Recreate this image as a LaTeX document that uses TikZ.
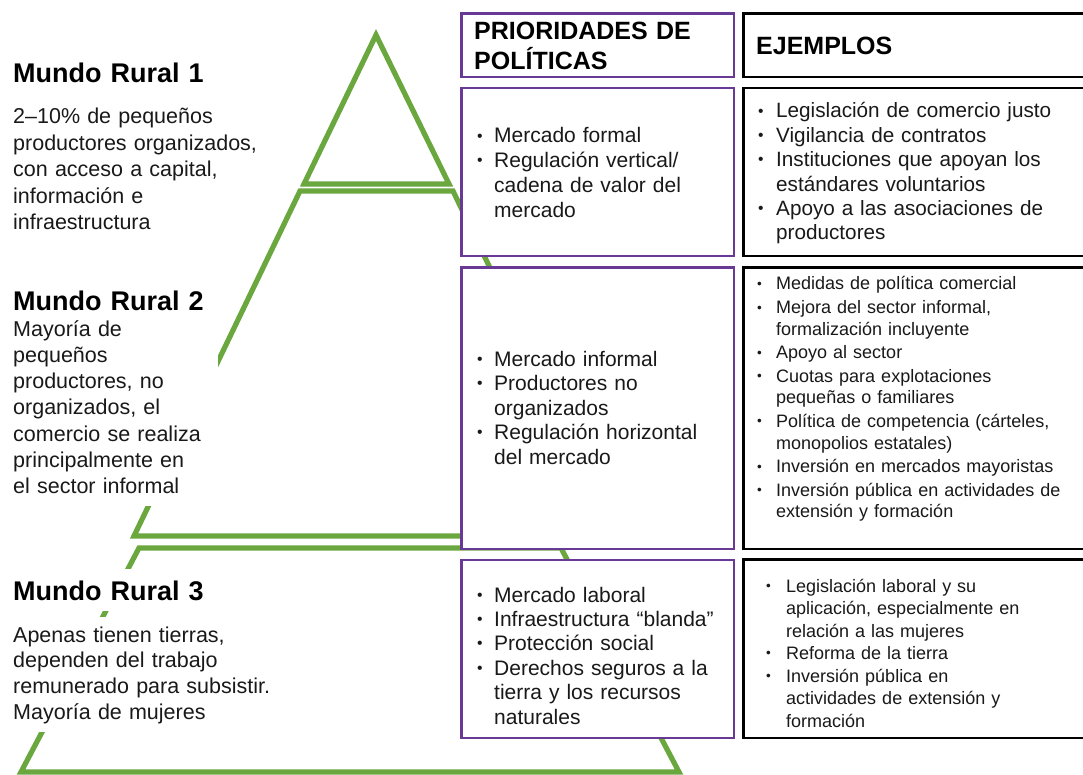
\documentclass[tikz,border=0pt]{standalone}
\usepackage{graphicx}
\usepackage{fontspec}
\setmainfont{Liberation Sans}
\definecolor{pgreen}{RGB}{106,168,63}
\definecolor{ppurple}{RGB}{104,58,150}
\definecolor{txt}{RGB}{25,25,25}
\newlength{\bw}
\newcommand{\bdot}{\raisebox{0.09em}{\scalebox{0.75}{\textbullet}}}
\newcommand{\bu}[1]{\noindent\makebox[\bw][l]{\bdot}#1\par}
\newcommand{\co}[1]{\noindent\hspace*{\bw}#1\par}
\newcommand{\gapp}{\vspace{2.3pt}}
\begin{document}
\begin{tikzpicture}[x=1pt,y=-1pt]
\useasboundingbox (0,0) rectangle (1083,775);
\tikzset{
 pyr/.style={draw=pgreen, line width=5.2pt, line join=miter},
 pbox/.style={draw=ppurple, line width=2.7pt, fill=white},
 kbox/.style={draw=black, line width=2.7pt, fill=white},
 cover/.style={fill=white},
 ttl/.style={anchor=base west, inner sep=0pt, text width=260pt, align=left, text=black, font=\bfseries\fontsize{27}{30}\selectfont},
 body/.style={anchor=base west, inner sep=0pt, text width=300pt, align=left, text=txt},
 head/.style={anchor=base west, inner sep=0pt, text width=260pt, align=left, text=black, font=\bfseries\fontsize{25}{30}\selectfont},
 list/.style={anchor=base west, inner sep=0pt, text width=330pt, align=left, text=txt}
}
% pyramid
\draw[pyr] (376,35) -- (449,184) -- (304,184) -- cycle;
\draw[pyr] (300,191) -- (453,191) -- (619,536) -- (134,536) -- cycle;
\draw[pyr] (139,548) -- (561,548) -- (679,772) -- (21,772) -- cycle;
% white grounds of the left texts
\fill[cover] (0,314) rectangle (218,506);
\fill[cover] (0,569) rectangle (215,611);
\fill[cover] (0,617) rectangle (280,732);
% boxes
\draw[pbox] (461.5,13.5) rectangle (734,77);
\draw[kbox] (743.5,13.5) rectangle (1086,77);
\draw[pbox] (461.5,88) rectangle (734,256);
\draw[kbox] (743.5,88) rectangle (1086,256);
\draw[pbox] (461.5,267.5) rectangle (734,549);
\draw[kbox] (743.5,267.5) rectangle (1086,549);
\draw[pbox] (461.5,560) rectangle (734,738);
\draw[kbox] (743.5,559.5) rectangle (1086,738);
% left texts
\node[ttl] (t1) at (13,82.7) {Mundo Rural 1};
\node[body, font=\fontsize{21.5}{26.5}\selectfont] (b1) at (13,124) {2–10\% de pequeños\par productores organizados,\par con acceso a capital,\par información e\par infraestructura};
\node[ttl] (t2) at (13,310) {Mundo Rural 2};
\node[body, font=\fontsize{21.5}{26.3}\selectfont] (b2) at (13,336) {Mayoría de\par pequeños\par productores, no\par organizados, el\par comercio se realiza\par principalmente en\par el sector informal};
\node[ttl] (t3) at (13,600) {Mundo Rural 3};
\node[body, font=\fontsize{21.5}{25.9}\selectfont] (b3) at (13,642) {Apenas tienen tierras,\par dependen del trabajo\par remunerado para subsistir.\par Mayoría de mujeres};
% headers
\node[head] (h1) at (474,40) {PRIORIDADES DE\par POLÍTICAS};
\node[head] (h2) at (756,55) {EJEMPLOS};
% policy priorities
\node[list, font=\fontsize{21}{24.7}\selectfont] (p1) at (477,143) {\setlength{\bw}{17pt}%
\bu{Mercado formal}\bu{Regulación vertical/}\co{cadena de valor del}\co{mercado}};
\node[list, font=\fontsize{21}{24.5}\selectfont] (p2) at (477,366) {\setlength{\bw}{17pt}%
\bu{Mercado informal}\bu{Productores no}\co{organizados}\bu{Regulación horizontal}\co{del mercado}};
\node[list, font=\fontsize{21}{24.4}\selectfont] (p3) at (477,602) {\setlength{\bw}{17pt}%
\bu{Mercado laboral}\bu{Infraestructura “blanda”}\bu{Protección social}\bu{Derechos seguros a la}\co{tierra y los recursos}\co{naturales}};
% examples
\node[list, font=\fontsize{20.7}{24.4}\selectfont] (e1) at (758,118) {\setlength{\bw}{18pt}%
\bu{Legislación de comercio justo}\bu{Vigilancia de contratos}\bu{Instituciones que apoyan los}\co{estándares voluntarios}\bu{Apoyo a las asociaciones de}\co{productores}};
\node[list, font=\fontsize{18}{21.4}\selectfont] (e2) at (757,290) {\setlength{\bw}{19pt}%
\bu{Medidas de política comercial}\gapp
\bu{Mejora del sector informal,}\co{formalización incluyente}\gapp
\bu{Apoyo al sector}\gapp
\bu{Cuotas para explotaciones}\co{pequeñas o familiares}\gapp
\bu{Política de competencia (cárteles,}\co{monopolios estatales)}\gapp
\bu{Inversión en mercados mayoristas}\gapp
\bu{Inversión pública en actividades de}\co{extensión y formación}};
\node[list, font=\fontsize{18}{22.5}\selectfont] (e3) at (766,592) {\setlength{\bw}{20pt}%
\bu{Legislación laboral y su}\co{aplicación, especialmente en}\co{relación a las mujeres}\bu{Reforma de la tierra}\bu{Inversión pública en}\co{actividades de extensión y}\co{formación}};
\end{tikzpicture}
\end{document}
